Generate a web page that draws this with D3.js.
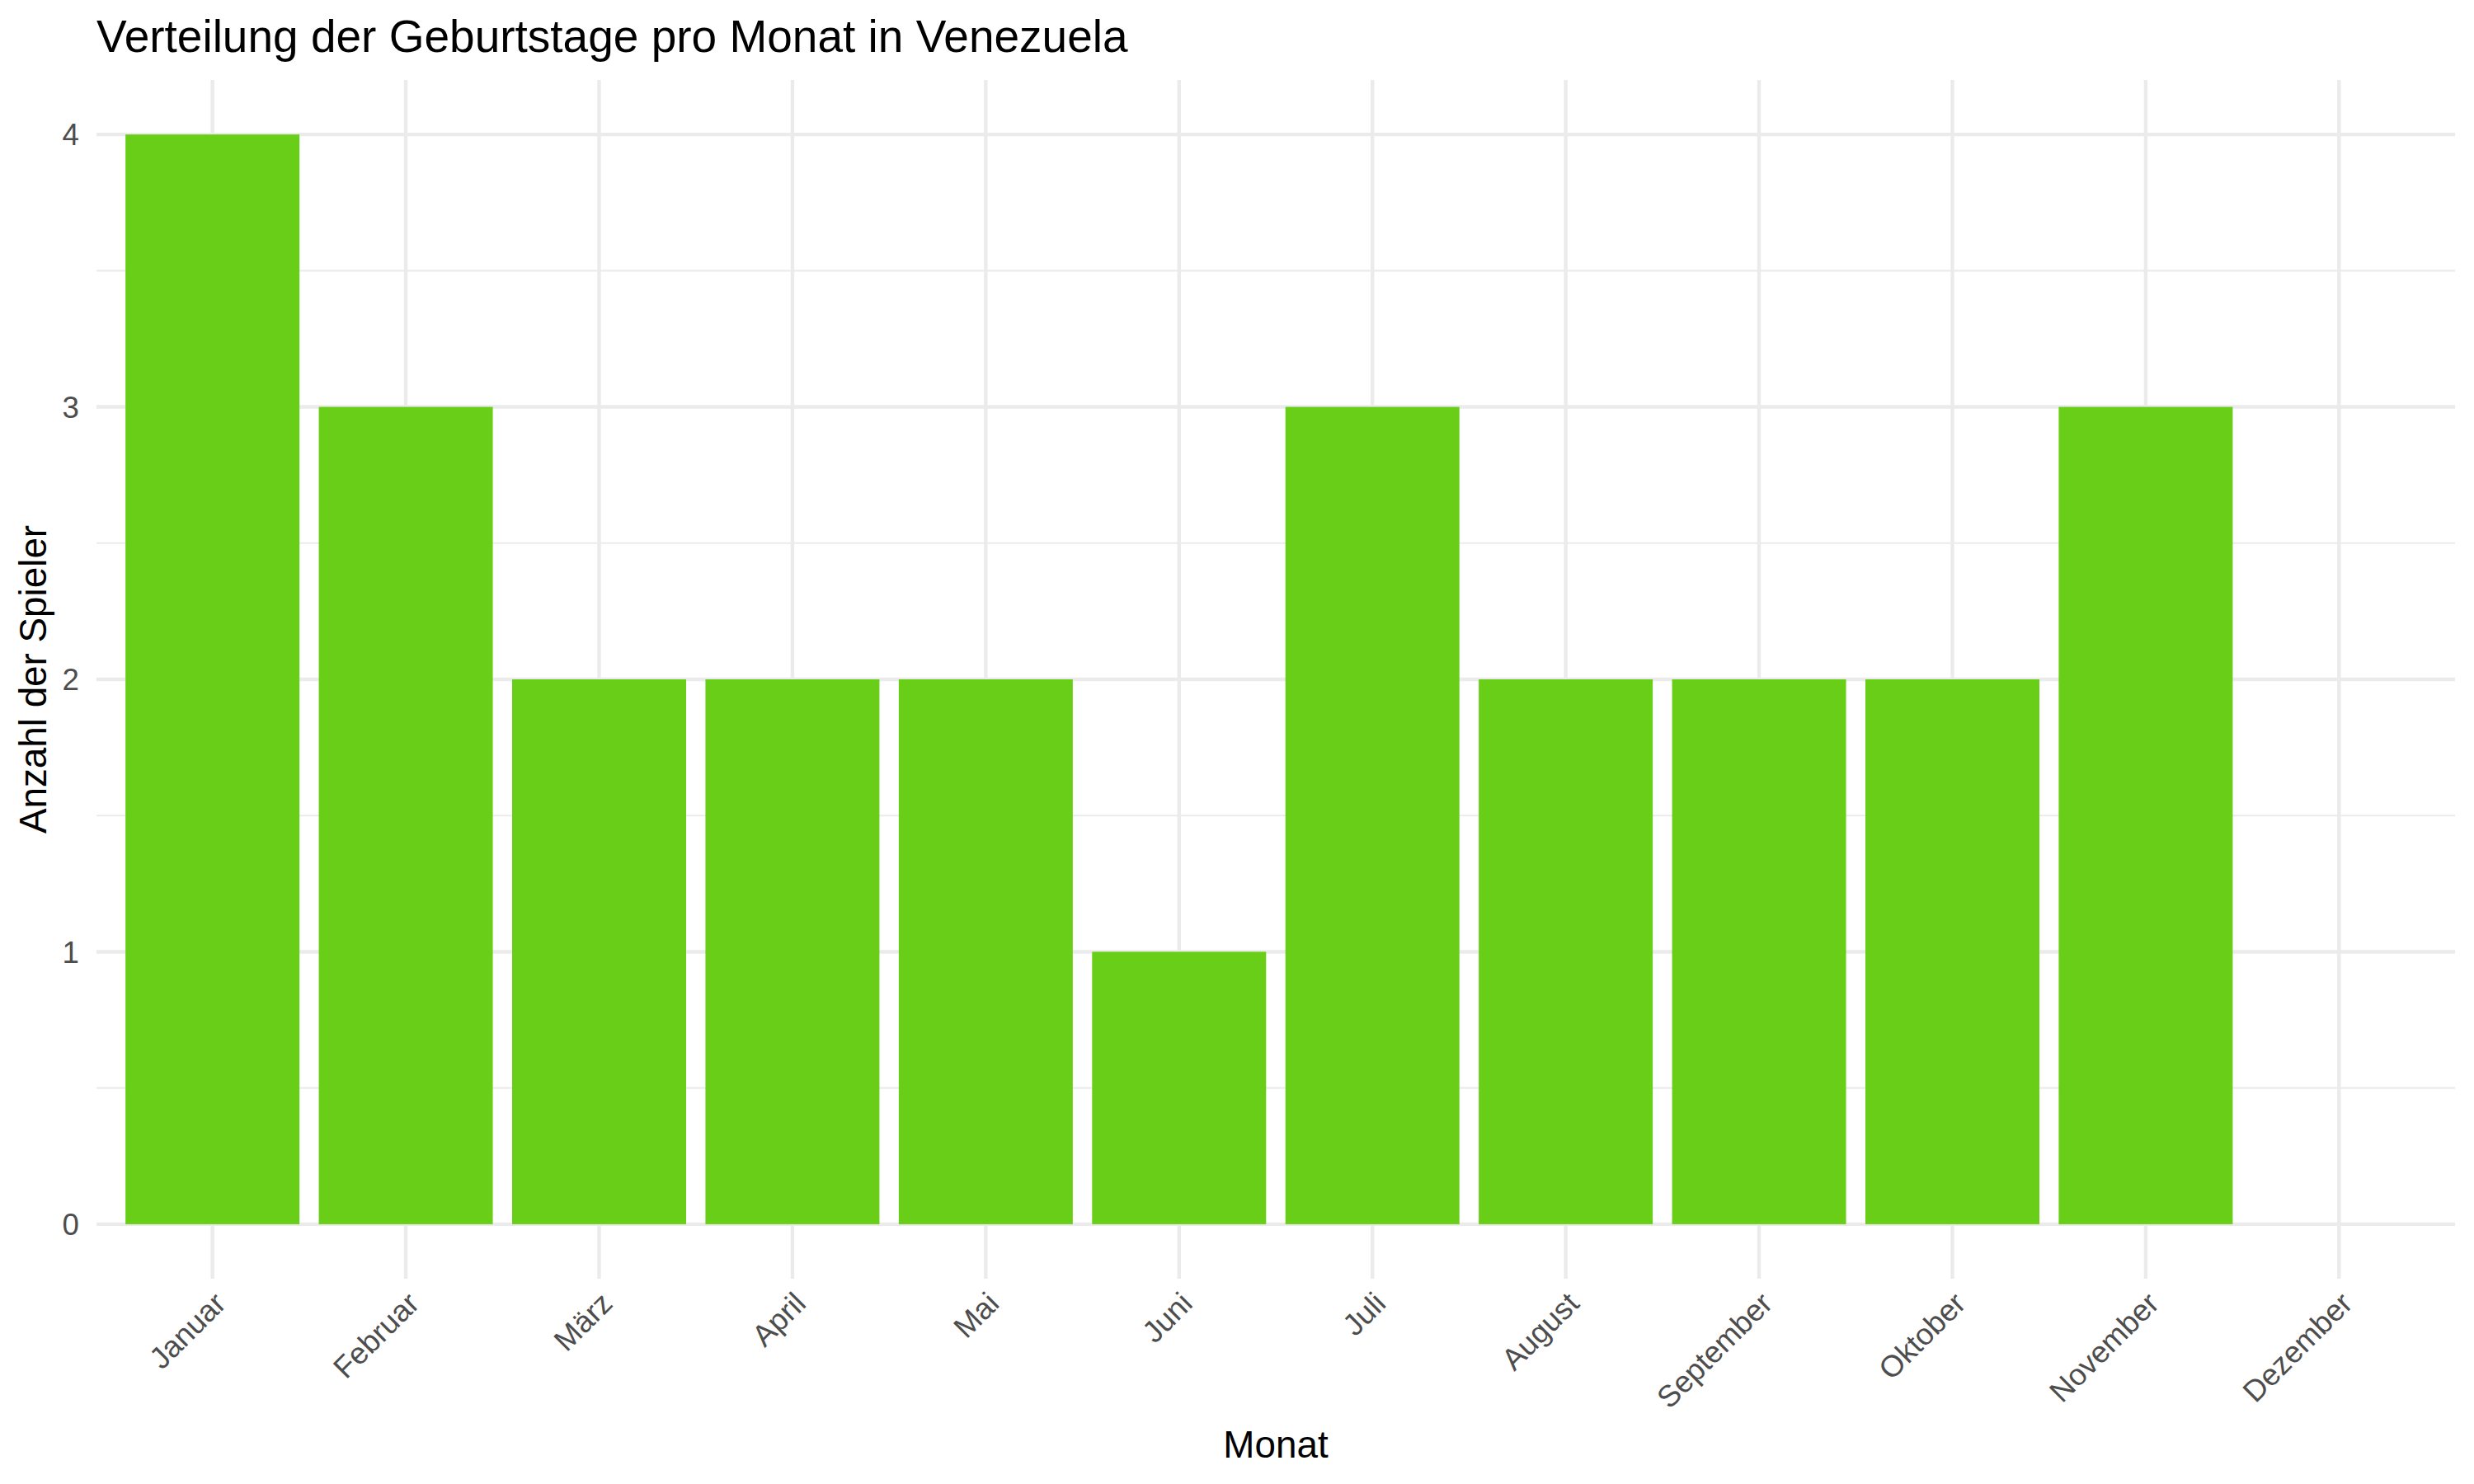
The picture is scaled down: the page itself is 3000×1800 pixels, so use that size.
<!DOCTYPE html>
<html><head><meta charset="utf-8">
<script src="https://cdn.jsdelivr.net/npm/d3@7"></script>
<style>body{margin:0;background:#fff}svg{display:block}text{font-family:"Liberation Sans",Arial,Helvetica,sans-serif}</style>
</head><body>
<script>
const months = ["Januar","Februar","März","April","Mai","Juni","Juli","August","September","Oktober","November","Dezember"];
const counts = [4,3,2,2,2,1,3,2,2,2,3,0];
const yTicks = [0,1,2,3,4];
const yMinor = [0.5,1.5,2.5,3.5];
const titleText = "Verteilung der Geburtstage pro Monat in Venezuela";
const xTitle = "Monat";
const yTitle = "Anzahl der Spieler";

const W = 3000, H = 1800;
const P = {left:117, right:2977, top:97, bottom:1551};
const svg = d3.select("body").append("svg").attr("width",W).attr("height",H);

const x = d3.scaleBand().domain(months).range([P.left,P.right]).paddingInner(0.1).paddingOuter(0.15);
const y = d3.scaleLinear().domain([-0.2,4.2]).range([P.bottom,P.top]);
const grid = "#EBEBEB";

svg.append("g").selectAll("line").data(yMinor).join("line")
  .attr("x1",P.left).attr("x2",P.right).attr("y1",d=>y(d)).attr("y2",d=>y(d))
  .attr("stroke",grid).attr("stroke-width",2.2);
svg.append("g").selectAll("line").data(yTicks).join("line")
  .attr("x1",P.left).attr("x2",P.right).attr("y1",d=>y(d)).attr("y2",d=>y(d))
  .attr("stroke",grid).attr("stroke-width",4.4);
svg.append("g").selectAll("line").data(months).join("line")
  .attr("x1",d=>x(d)+x.bandwidth()/2).attr("x2",d=>x(d)+x.bandwidth()/2)
  .attr("y1",P.top).attr("y2",P.bottom)
  .attr("stroke",grid).attr("stroke-width",4.4);

svg.append("g").selectAll("rect").data(months.map((m,i)=>({m,v:counts[i]})).filter(d=>d.v>0)).join("rect")
  .attr("x",d=>x(d.m)).attr("width",x.bandwidth())
  .attr("y",d=>y(d.v)).attr("height",d=>y(0)-y(d.v))
  .attr("fill","#69CE17");

svg.append("g").selectAll("text").data(yTicks).join("text")
  .attr("x",96).attr("y",d=>y(d)).attr("dy","0.36em")
  .attr("text-anchor","end").attr("font-size",36.7).attr("fill","#4D4D4D")
  .text(d=>d);

svg.append("g").selectAll("text").data(months).join("text")
  .attr("transform",d=>`translate(${x(d)+x.bandwidth()/2-2},${P.bottom+12}) rotate(-45)`)
  .attr("text-anchor","end").attr("dy","0.78em")
  .attr("font-size",36.7).attr("fill","#4D4D4D")
  .text(d=>d);

svg.append("text").attr("x",P.left).attr("y",63).attr("font-size",55).attr("fill","#000").text(titleText);
svg.append("text").attr("x",(P.left+P.right)/2).attr("y",1768).attr("text-anchor","middle").attr("font-size",45.8).attr("fill","#000").text(xTitle);
svg.append("text").attr("transform",`translate(56,${(P.top+P.bottom)/2}) rotate(-90)`).attr("text-anchor","middle").attr("font-size",45.8).attr("fill","#000").text(yTitle);
</script>
</body></html>
